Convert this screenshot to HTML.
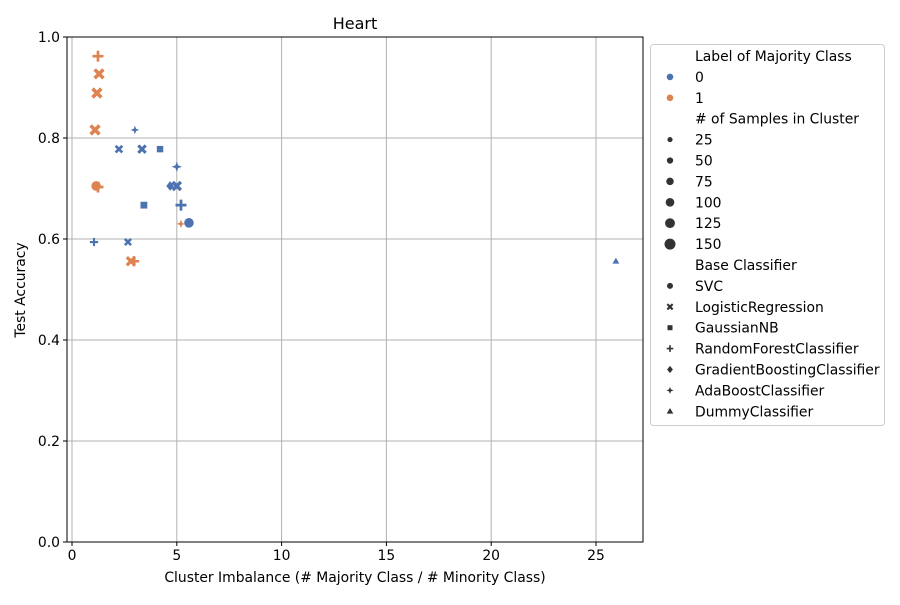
<!DOCTYPE html>
<html><head><meta charset="utf-8"><style>
body{margin:0;background:#fff;font-family:"Liberation Sans","DejaVu Sans",sans-serif}
svg text{font-family:"DejaVu Sans","Liberation Sans",sans-serif}
</style></head><body>
<svg id="chart" width="900" height="600">
<rect width="900" height="600" fill="#fff"/>
<g id="grid"></g><g id="ticks"></g><g id="marks"></g>
<rect x="67" y="37" width="576" height="505" fill="none" stroke="#000" stroke-width="1"/>
<text x="355" y="29" font-size="16" text-anchor="middle">Heart</text>
<text x="355" y="582" font-size="13.9" text-anchor="middle">Cluster Imbalance (# Majority Class / # Minority Class)</text>
<text x="25" y="290" font-size="13.9" text-anchor="middle" transform="rotate(-90 25 290)">Test Accuracy</text>
<g id="legend"></g>
</svg>
<script>
const xTicks=[0,5,10,15,20,25];
const yTicks=[0.0,0.2,0.4,0.6,0.8,1.0];
const ptX=[1.24,1.29,1.19,1.10,1.15,1.24,5.2,2.81,2.96, 3.0,2.24,3.34,4.2,5.0,4.68,5.0,3.43,5.2,5.58,1.05,2.67,25.95];
const ptY=[0.962,0.927,0.889,0.816,0.705,0.703,0.63,0.556,0.556, 0.816,0.778,0.778,0.778,0.743,0.705,0.705,0.667,0.667,0.632,0.594,0.594,0.556];
const ptLabel=[1,1,1,1,1,1,1,1,1, 0,0,0,0,0,0,0,0,0,0,0,0,0];
const ptClf=["rf","lr","lr","lr","svc","rf","ada","lr","rf", "ada","lr","lr","gnb","ada","gb","lr","gnb","rf","svc","rf","lr","dummy"];
const ptSize=[125,125,125,125,100,125,40,100,100, 40,50,75,50,75,60,100,60,125,100,50,40,25];
const NS="http://www.w3.org/2000/svg";
const X=v=>72+20.96*v, Y=v=>542-505*v;
const colors=["#4c72b0","#dd8452"];
function el(t,a,p){const e=document.createElementNS(NS,t);for(const k in a)e.setAttribute(k,a[k]);p.appendChild(e);return e;}
const grid=document.getElementById('grid'),ticks=document.getElementById('ticks');
xTicks.forEach(v=>{const x=X(v);
 const g=el('line',{x1:x,x2:x,y1:37,y2:542,stroke:'#b0b0b0','stroke-width':1},grid);
 
 el('line',{x1:x,x2:x,y1:542,y2:546,stroke:'#000'},ticks);
 const t=el('text',{x:x,y:560,'font-size':13.9,'text-anchor':'middle'},ticks);t.textContent=v;
 });
yTicks.forEach(v=>{const y=Y(v);
 const g=el('line',{x1:67,x2:643,y1:y,y2:y,stroke:'#b0b0b0','stroke-width':1},grid);
 
 el('line',{x1:63,x2:67,y1:y,y2:y,stroke:'#000'},ticks);
 const t=el('text',{x:60,y:y+5,'font-size':13.9,'text-anchor':'end'},ticks);t.textContent=v.toFixed(1);
 });
function marker(p,shape,cx,cy,r,fill){
 let e;
 if(shape==='svc')e=el('circle',{cx,cy,r,fill,stroke:'#fff','stroke-width':0.6},p);
 else if(shape==='gnb')e=el('rect',{x:cx-r*0.85,y:cy-r*0.85,width:r*1.7,height:r*1.7,fill,stroke:'#fff','stroke-width':0.6},p);
 else if(shape==='lr'){const d=r*0.8;e=el('path',{d:`M${cx-d} ${cy-d}L${cx+d} ${cy+d}M${cx-d} ${cy+d}L${cx+d} ${cy-d}`,stroke:fill,'stroke-width':r*0.65,fill:'none'},p);}
 else if(shape==='rf'){const d=r;e=el('path',{d:`M${cx-d} ${cy}L${cx+d} ${cy}M${cx} ${cy-d}L${cx} ${cy+d}`,stroke:fill,'stroke-width':r*0.5,fill:'none'},p);}
 else if(shape==='gb'){const d=r*1.1;e=el('path',{d:`M${cx} ${cy-d}L${cx+d*0.8} ${cy}L${cx} ${cy+d}L${cx-d*0.8} ${cy}Z`,fill},p);}
 else if(shape==='ada'){const d=r*1.1,w=r*0.3;e=el('path',{d:`M${cx} ${cy-d}L${cx+w} ${cy-w}L${cx+d} ${cy}L${cx+w} ${cy+w}L${cx} ${cy+d}L${cx-w} ${cy+w}L${cx-d} ${cy}L${cx-w} ${cy-w}Z`,fill},p);}
 else {const d=r;e=el('path',{d:`M${cx} ${cy-d}L${cx+d} ${cy+d*0.7}L${cx-d} ${cy+d*0.7}Z`,fill},p);}
 return e;
}
const rOf=s=>1.8+Math.sqrt(s)*0.33;
const marks=document.getElementById('marks');
ptX.forEach((v,i)=>{const m=marker(marks,ptClf[i],X(v),Y(ptY[i]),rOf(ptSize[i]),colors[ptLabel[i]]);
 });
const lg=document.getElementById('legend');
el('rect',{x:650.5,y:44.5,width:234,height:381,rx:3,fill:'#fff',stroke:'#ccc'},lg);
const rows=[["t","Label of Majority Class"],["c0","0"],["c1","1"],["t","# of Samples in Cluster"],["s25","25"],["s50","50"],["s75","75"],["s100","100"],["s125","125"],["s150","150"],["t","Base Classifier"],["m:svc","SVC"],["m:lr","LogisticRegression"],["m:gnb","GaussianNB"],["m:rf","RandomForestClassifier"],["m:gb","GradientBoostingClassifier"],["m:ada","AdaBoostClassifier"],["m:dummy","DummyClassifier"]];
rows.forEach((r,i)=>{const y=56+i*20.9;
 const t=el('text',{x:695,y:y+5,'font-size':13.9},lg);t.textContent=r[1];
 
 if(r[0]==='c0')el('circle',{cx:670,cy:y,r:3.3,fill:colors[0]},lg);
 if(r[0]==='c1')el('circle',{cx:670,cy:y,r:3.3,fill:colors[1]},lg);
 if(r[0][0]==='s')el('circle',{cx:670,cy:y,r:2+ (+r[0].slice(1))/150*3.5,fill:'#333'},lg);
 if(r[0].startsWith('m:'))marker(lg,r[0].slice(2),670,y,3.3,'#333');
});
</script>
</body></html>
